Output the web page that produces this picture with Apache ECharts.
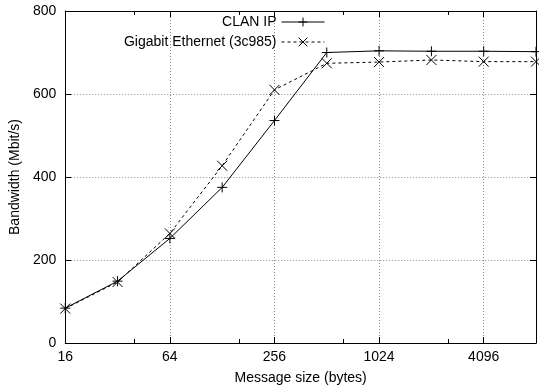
<!DOCTYPE html>
<html>
<head>
<meta charset="utf-8">
<script src="https://cdn.jsdelivr.net/npm/echarts@6/dist/echarts.min.js"></script>
<style>
  html, body { margin: 0; padding: 0; background: #fff; }
  #chart { width: 539px; height: 392px; }
</style>
</head>
<body>
<div id="chart"></div>
<script>
// message sizes in bytes
var sizes = [16, 32, 64, 128, 256, 512, 1024, 2048, 4096, 8192]
var clanIp = [84, 149, 252, 375, 536, 700, 704, 703, 703, 702]
var gigabit = [83, 147, 264, 427, 610, 674, 677, 682, 678, 678]
var xTicks = [16, 64, 256, 1024, 4096]

var plusPath = 'path://M0,-10L0,10M-10,0L10,0'
var crossPath = 'path://M-10,-10L10,10M-10,10L10,-10'

function pairs(vals) {
  return sizes.map(function (s, i) { return [s, vals[i]] })
}

var font = 'Liberation Sans, Arial, sans-serif'
var fs = 14
var chart = echarts.init(document.getElementById('chart'))

var xCommon = {
  type: 'log',
  logBase: 2,
  min: 16,
  max: 8192,
  interval: 2,
  axisLine: { show: true, onZero: false, lineStyle: { color: '#000', width: 1 } },
  axisTick: { show: true, inside: true, length: 6, lineStyle: { color: '#000' } },
  minorTick: { show: true, splitNumber: 2, length: 4, lineStyle: { color: '#000' } }
}

chart.setOption({
  animation: false,
  textStyle: { fontFamily: font },
  grid: { left: 64, right: 3, top: 11, bottom: 49, containLabel: false },
  legend: {
    orient: 'vertical',
    right: 214,
    top: 15,
    padding: 0,
    align: 'right',
    itemWidth: 43,
    itemHeight: 11,
    itemGap: 6,
    lineStyle: { width: 1 },
    itemStyle: { borderWidth: 1 },
    textStyle: { fontFamily: font, fontSize: fs, color: '#000' },
    data: ['CLAN IP', 'Gigabit Ethernet (3c985)']
  },
  xAxis: [
    Object.assign({}, xCommon, {
      position: 'bottom',
      name: 'Message size (bytes)',
      nameLocation: 'middle',
      nameGap: 28,
      nameTextStyle: { fontFamily: font, fontSize: fs, color: '#000' },
      axisLabel: {
        color: '#000', fontSize: fs, fontFamily: font, margin: 7,
        showMaxLabel: false,
        formatter: function (v) { return xTicks.indexOf(Math.round(v)) >= 0 ? String(Math.round(v)) : '' }
      },
      splitLine: { show: true, lineStyle: { color: '#888', type: [1, 2], width: 1 } }
    }),
    Object.assign({}, xCommon, {
      position: 'top',
      axisLabel: { show: false },
      splitLine: { show: false }
    })
  ],
  yAxis: [
    {
      type: 'value',
      min: 0,
      max: 800,
      interval: 200,
      name: 'Bandwidth (Mbit/s)',
      nameLocation: 'middle',
      nameGap: 41,
      nameTextStyle: { fontFamily: font, fontSize: fs, color: '#000' },
      axisLine: { show: true, lineStyle: { color: '#000', width: 1 } },
      axisTick: { show: true, inside: true, length: 6, lineStyle: { color: '#000' } },
      axisLabel: { color: '#000', fontSize: fs, fontFamily: font, margin: 9 },
      splitLine: { show: true, lineStyle: { color: '#888', type: [1, 2], width: 1 } }
    },
    {
      type: 'value',
      min: 0,
      max: 800,
      interval: 200,
      position: 'right',
      axisLine: { show: true, lineStyle: { color: '#000', width: 1 } },
      axisTick: { show: true, inside: true, length: 6, lineStyle: { color: '#000' } },
      axisLabel: { show: false },
      splitLine: { show: false }
    }
  ],
  series: [
    {
      name: 'CLAN IP',
      type: 'line',
      data: pairs(clanIp),
      symbol: plusPath,
      symbolSize: 10,
      lineStyle: { color: '#000', width: 1, type: 'solid' },
      itemStyle: { color: '#000', borderColor: '#000', borderWidth: 1 }
    },
    {
      name: 'Gigabit Ethernet (3c985)',
      type: 'line',
      data: pairs(gigabit),
      symbol: crossPath,
      symbolSize: 10,
      lineStyle: { color: '#000', width: 1, type: [3, 3] },
      itemStyle: { color: '#000', borderColor: '#000', borderWidth: 1 }
    }
  ]
})
</script>
</body>
</html>
